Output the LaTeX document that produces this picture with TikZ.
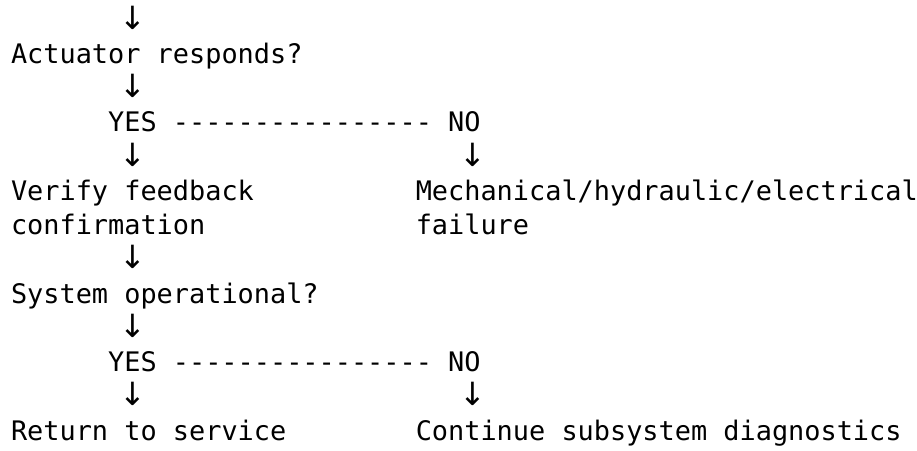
\documentclass[tikz,border=0pt]{standalone}
\usepackage{fontspec}
\setmonofont{DejaVu Sans Mono}
\newfontfamily\arrowfont{DejaVu Sans}
\tikzset{
  txt/.style={inner sep=0pt, outer sep=0pt, anchor=base west, text=black,
    font=\ttfamily\fontsize{26.9}{34.25}\selectfont},
  arr/.style={inner sep=0pt, outer sep=0pt, anchor=base, text=black,
    font=\arrowfont\fontsize{32}{34.25}\selectfont}
}
\begin{document}
\begin{tikzpicture}[x=16.19pt, y=-34.25pt]
\path[use as bounding box, fill=white] (-11pt,29pt) rectangle (906pt,-421pt);
\node[arr] (a0) at (7.5,0) {↓};
\node[txt] (q1) at (0,1) {Actuator responds?};
\node[arr] (a2) at (7.5,2) {↓};
\node[txt] (yes1) at (6,3) {YES};
\node[txt] (dash1) at (10,3) {----------------};
\node[txt] (no1) at (27,3) {NO};
\node[arr] (a4l) at (7.5,4) {↓};
\node[arr] (a4r) at (28.5,4) {↓};
\node[txt] (v1) at (0,5) {Verify feedback};
\node[txt] (m1) at (25,5) {Mechanical/hydraulic/electrical};
\node[txt] (v2) at (0,6) {confirmation};
\node[txt] (m2) at (25,6) {failure};
\node[arr] (a7) at (7.5,7) {↓};
\node[txt] (q2) at (0,8) {System operational?};
\node[arr] (a9) at (7.5,9) {↓};
\node[txt] (yes2) at (6,10) {YES};
\node[txt] (dash2) at (10,10) {----------------};
\node[txt] (no2) at (27,10) {NO};
\node[arr] (a11l) at (7.5,11) {↓};
\node[arr] (a11r) at (28.5,11) {↓};
\node[txt] (r1) at (0,12) {Return to service};
\node[txt] (c1) at (25,12) {Continue subsystem diagnostics};
\end{tikzpicture}
\end{document}
